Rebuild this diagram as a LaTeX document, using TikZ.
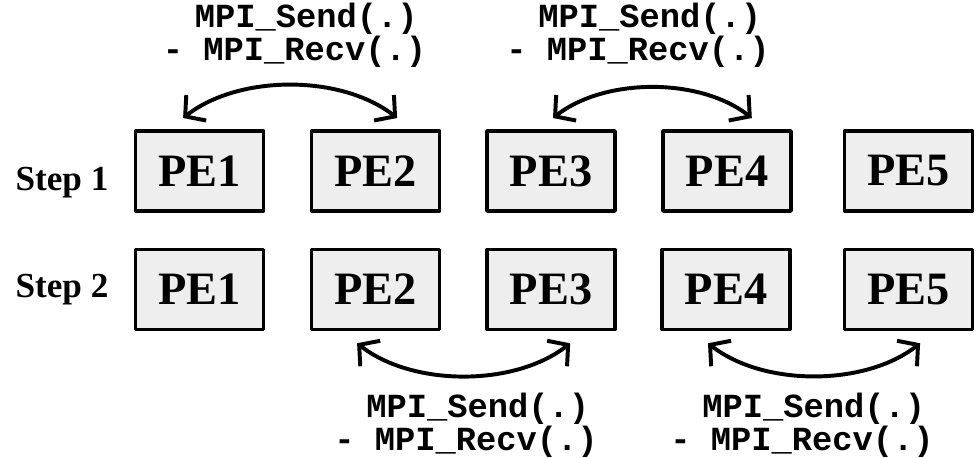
\documentclass[tikz,border=0pt]{standalone}
\usepackage{fontspec}
\setmainfont{Liberation Serif}
\setmonofont{Liberation Mono}
\usetikzlibrary{arrows.meta}
\usetikzlibrary{positioning}

\tikzset{
  pebox/.style={draw,line width=2.5pt,fill=gray!13,minimum width=3.2cm,minimum height=2.0cm,
    inner sep=0pt,font=\fontsize{33}{33}\selectfont\bfseries},
  steplabel/.style={font=\fontsize{25}{25}\selectfont\bfseries},
  mpilabel/.style={align=right,inner sep=0pt,font=\fontsize{24}{20.5}\selectfont\ttfamily\bfseries},
  swap/.style={line width=2.8pt,{Straight Barb[length=10pt,width=23pt]}-{Straight Barb[length=10pt,width=23pt]}},
}

\begin{document}
\begin{tikzpicture}[line cap=round,line join=round,x=0.025cm,y=-0.025cm]
\useasboundingbox (0,0) rectangle (979,458);
% step 1
\node[steplabel] (s1) at (62,183) {Step 1};
\node[pebox] (a1) at (199.5,171) {PE1};
\node[pebox] (a2) at (375.5,171) {PE2};
\node[pebox] (a3) at (551,171) {PE3};
\node[pebox] (a4) at (727,171) {PE4};
\node[pebox] (a5) at (908.5,171) {PE5};
% step 2
\node[steplabel] (s2) at (62,290) {Step 2};
\node[pebox] (b1) at (199.5,289.5) {PE1};
\node[pebox] (b2) at (375.5,289.5) {PE2};
\node[pebox] (b3) at (551,289.5) {PE3};
\node[pebox] (b4) at (726,289.5) {PE4};
\node[pebox] (b5) at (908.5,289.5) {PE5};
% messages
\node[mpilabel] (m12) at (294.5,35) {MPI\_Send(.)\hspace*{0.25em}\\- MPI\_Recv(.)};
\node[mpilabel] (m34) at (638,35) {MPI\_Send(.)\hspace*{0.25em}\\- MPI\_Recv(.)};
\node[mpilabel] (m23) at (466,425) {MPI\_Send(.)\hspace*{0.25em}\\- MPI\_Recv(.)};
\node[mpilabel] (m45) at (802,425) {MPI\_Send(.)\hspace*{0.25em}\\- MPI\_Recv(.)};
\draw[swap] ([xshift=-0.41cm,yshift=0.28cm]a1.north) to[bend left=38,looseness=0.85] ([xshift=0.54cm,yshift=0.28cm]a2.north);
\draw[swap] ([xshift=0.05cm,yshift=0.28cm]a3.north) to[bend left=38,looseness=0.85] ([xshift=0.62cm,yshift=0.28cm]a4.north);
\draw[swap] ([xshift=-0.46cm,yshift=-0.3cm]b2.south) to[bend right=38,looseness=0.85] ([xshift=0.48cm,yshift=-0.3cm]b3.south);
\draw[swap] ([xshift=-0.45cm,yshift=-0.3cm]b4.south) to[bend right=38,looseness=0.85] ([xshift=0.29cm,yshift=-0.3cm]b5.south);
\end{tikzpicture}
\end{document}
